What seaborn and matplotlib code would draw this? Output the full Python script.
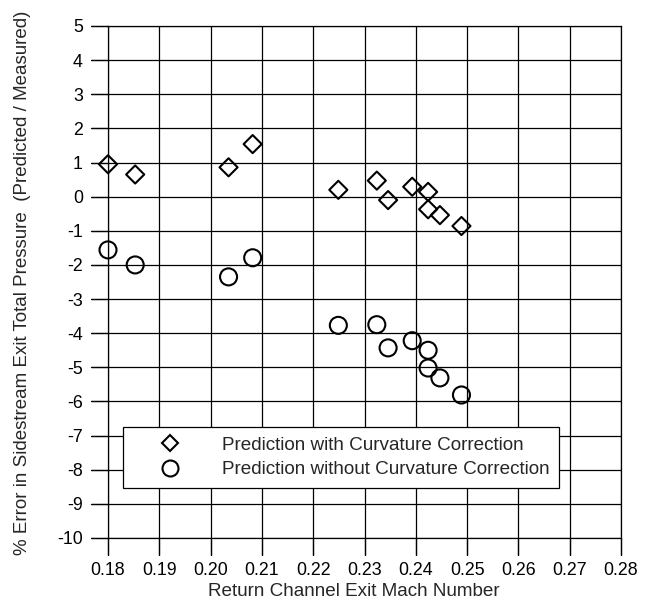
import matplotlib
matplotlib.use("Agg")
import matplotlib.pyplot as plt
import seaborn as sns
import pandas as pd
from matplotlib.lines import Line2D

mach = [0.1800, 0.1853, 0.2035, 0.2082, 0.2249, 0.2324, 0.2346, 0.2393, 0.2424, 0.2424, 0.2447, 0.2489]
err_with = [0.95, 0.65, 0.86, 1.54, 0.20, 0.47, -0.10, 0.29, 0.14, -0.37, -0.54, -0.86]
err_without = [-1.56, -2.00, -2.35, -1.79, -3.77, -3.75, -4.43, -4.22, -4.50, -5.02, -5.31, -5.81]

labels = ["Prediction with Curvature Correction", "Prediction without Curvature Correction"]
xticks = [0.18, 0.19, 0.20, 0.21, 0.22, 0.23, 0.24, 0.25, 0.26, 0.27, 0.28]
yticks = list(range(-10, 6))

sns.set_style("white")
plt.rcParams["font.family"] = ["Liberation Sans", "DejaVu Sans"]

df = pd.DataFrame({
    "mach": mach + mach,
    "err": err_with + err_without,
    "series": [labels[0]] * len(mach) + [labels[1]] * len(mach),
})

fig = plt.figure(figsize=(6.52, 6.04), dpi=100)
ax = fig.add_axes([108 / 652, 1 - 538 / 604, 513 / 652, 512 / 604])

sns.scatterplot(data=df[df.series == labels[0]], x="mach", y="err", marker="D",
                s=85, facecolor="none", edgecolor="black", linewidth=1.5, ax=ax,
                legend=False, zorder=3, clip_on=False)
sns.scatterplot(data=df[df.series == labels[1]], x="mach", y="err", marker="o",
                s=150, facecolor="none", edgecolor="black", linewidth=1.5, ax=ax,
                legend=False, zorder=3, clip_on=False)

ax.set_xlim(0.18, 0.28)
ax.set_ylim(-10, 5)
ax.set_xticks(xticks)
ax.set_xticklabels([f"{t:.2f}" for t in xticks])
ax.set_yticks(yticks)
ax.set_yticklabels([str(t) for t in yticks])
ax.grid(True, color="black", linewidth=0.9)
for s in ax.spines.values():
    s.set_color("black")
    s.set_linewidth(0.9)
ax.tick_params(axis="both", which="major", direction="out", length=12.5, width=0.9,
               color="black", labelsize=12.8, labelcolor="black",
               bottom=True, left=True)
ax.tick_params(axis="y", pad=5.5)
ax.tick_params(axis="x", pad=5)

# outward tick marks as figure-level artists, positioned through the axes transforms
fig.canvas.draw()
tick_px = 17
inv = fig.transFigure.inverted()
for xt in xticks:
    x0, y0 = ax.transData.transform((xt, ax.get_ylim()[0]))
    (fx0, fy0), (fx1, fy1) = inv.transform([(x0, y0), (x0, y0 - tick_px)])
    fig.add_artist(Line2D([fx0, fx1], [fy0, fy1], color="black", linewidth=0.9,
                          transform=fig.transFigure))
for yt in yticks:
    x0, y0 = ax.transData.transform((ax.get_xlim()[0], yt))
    (fx0, fy0), (fx1, fy1) = inv.transform([(x0, y0), (x0 - tick_px, y0)])
    fig.add_artist(Line2D([fx0, fx1], [fy0, fy1], color="black", linewidth=0.9,
                          transform=fig.transFigure))

ax.set_xlabel("Return Channel Exit Mach Number", fontsize=13.6)
ax.xaxis.label.set_va("center")
ax.xaxis.set_label_coords(353.5 / 652, 1 - 592 / 604, transform=fig.transFigure)
ax.set_ylabel("% Error in Sidestream Exit Total Pressure  (Predicted / Measured)",
              fontsize=13.5)
ax.yaxis.label.set_va("center")
ax.yaxis.set_label_coords(23 / 652, 1 - 283 / 604, transform=fig.transFigure)

handles = [
    Line2D([], [], marker="D", linestyle="none", markerfacecolor="none",
           markeredgecolor="black", markeredgewidth=1.5, markersize=8.5),
    Line2D([], [], marker="o", linestyle="none", markerfacecolor="none",
           markeredgecolor="black", markeredgewidth=1.5, markersize=11.5),
]
leg = ax.legend(handles, labels, loc="upper left",
                bbox_to_anchor=((123 - 108) / 513, (538 - 427) / 512),
                frameon=True, fancybox=False, fontsize=13.6, borderaxespad=0,
                handletextpad=0.75, borderpad=0.5, labelspacing=0.4, handlelength=4.0)
leg.get_frame().set_edgecolor("black")
leg.get_frame().set_linewidth(0.9)
leg.get_frame().set_alpha(1)

fig.savefig("out.png", dpi=100)
